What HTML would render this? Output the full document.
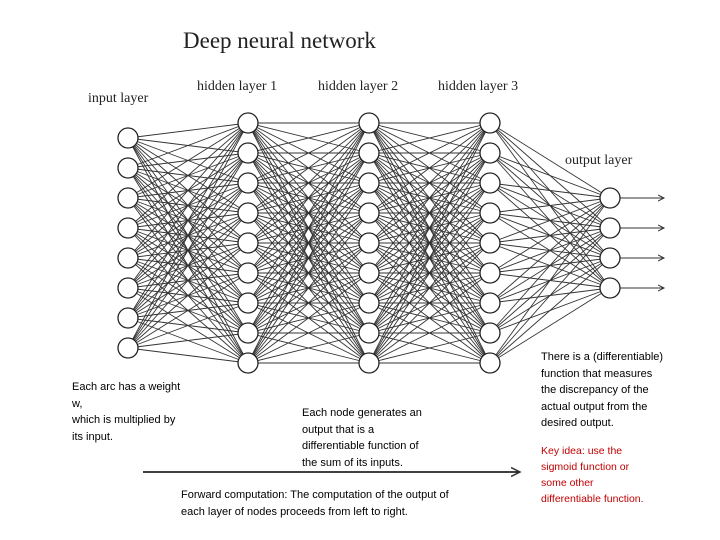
<!DOCTYPE html>
<html><head><meta charset="utf-8"><style>
body{margin:0;background:#fff;width:720px;height:540px;overflow:hidden;position:relative;font-family:"Liberation Sans",sans-serif}
.t{position:absolute;font-size:11px;line-height:16.5px;color:#000;white-space:nowrap}
.s{position:absolute;font-family:"Liberation Serif",serif;color:#222;white-space:nowrap}
</style></head><body>
<svg id="g" width="720" height="540" style="position:absolute;left:0;top:0">
<defs><marker id="a" markerWidth="8" markerHeight="8" refX="6" refY="4" orient="auto"><path d="M0,1 L6,4 L0,7" fill="none" stroke="#333" stroke-width="1"/></marker></defs>
<line x1="143" y1="472" x2="520" y2="472" stroke="#000" stroke-width="1.5" marker-end="url(#a)"/>
</svg>
<div class="s" style="left:183px;top:28px;font-size:23px">Deep neural network</div>
<div class="s" style="left:88px;top:91px;font-size:14px">input layer</div>
<div class="s" style="left:197px;top:79px;font-size:14px">hidden layer 1</div>
<div class="s" style="left:318px;top:79px;font-size:14px">hidden layer 2</div>
<div class="s" style="left:438px;top:79px;font-size:14px">hidden layer 3</div>
<div class="s" style="left:565px;top:153px;font-size:14px">output layer</div>
<div class="t" style="left:72px;top:379px">Each arc has a weight<br>w,<br>which is multiplied by<br>its input.</div>
<div class="t" style="left:302px;top:405px">Each node generates an<br>output that is a<br>differentiable function of<br>the sum of its inputs.</div>
<div class="t" style="left:181px;top:487px">Forward computation: The computation of the output of<br>each layer of nodes proceeds from left to right.</div>
<div class="t" style="left:541px;top:349px">There is a (differentiable)<br>function that measures<br>the discrepancy of the<br>actual output from the<br>desired output.</div>
<div class="t" style="left:541px;top:443px;color:#c00000;font-size:10.5px;line-height:16px">Key idea: use the<br>sigmoid function or<br>some other<br>differentiable function.</div>
<script>
var s=document.getElementById('g');
function L(n,x,y0,d){var a=[];for(var i=0;i<n;i++)a.push([x,y0+i*d]);return a}
var layers=[L(8,128,138,30),L(9,248,123,30),L(9,369,123,30),L(9,490,123,30),L(4,610,198,30)];
var h='';
for(var k=0;k<4;k++)for(var i of layers[k])for(var j of layers[k+1])
h+='<line x1="'+i[0]+'" y1="'+i[1]+'" x2="'+j[0]+'" y2="'+j[1]+'" stroke="#333" stroke-width="0.9"/>';
for(var o of layers[4])h+='<line x1="'+o[0]+'" y1="'+o[1]+'" x2="664" y2="'+o[1]+'" stroke="#333" stroke-width="1" marker-end="url(#a)"/>';
for(var l of layers)for(var p of l)h+='<circle cx="'+p[0]+'" cy="'+p[1]+'" r="10" fill="#fff" stroke="#222" stroke-width="1.3"/>';
s.insertAdjacentHTML('beforeend',h);
</script>
</body></html>
